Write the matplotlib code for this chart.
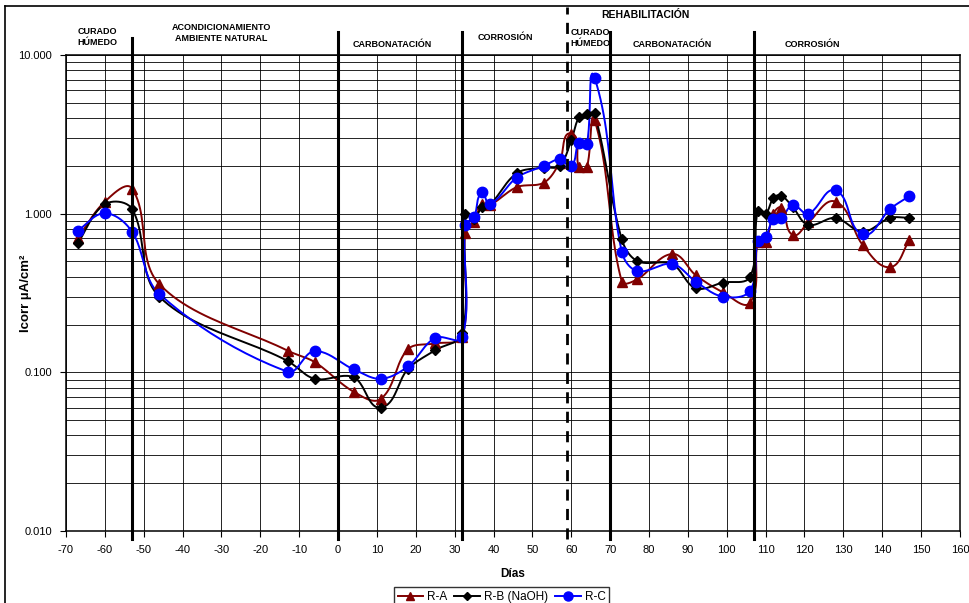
import numpy as np
import matplotlib.pyplot as plt
from matplotlib.lines import Line2D
from matplotlib.ticker import FixedLocator, LogLocator, NullFormatter

plt.rcParams['font.family'] = ['Liberation Sans', 'DejaVu Sans']
plt.rcParams['axes.unicode_minus'] = False

# días de medida (común a las tres series)
dias = [-67, -60, -53, -46, -13, -6, 4, 11, 18, 25, 32, 32.7, 35, 37, 39, 46, 53, 57,
        60, 62, 64, 66, 73, 77, 86, 92, 99, 106, 108, 110, 112, 114, 117, 121, 128,
        135, 142, 147]

icorr_ra = [0.70, 1.19, 1.44, 0.36, 0.137, 0.116, 0.0755, 0.068, 0.14, 0.152, 0.168,
            0.75, 0.88, 1.15, 1.13, 1.47, 1.57, 2.1, 3.2, 1.96, 1.96, 3.9, 0.373, 0.386,
            0.557, 0.41, 0.32, 0.275, 0.66, 0.666, 1.0, 1.09, 0.734, 0.88, 1.19, 0.635,
            0.46, 0.68]
icorr_rb = [0.65, 1.146, 1.07, 0.30, 0.118, 0.091, 0.093, 0.060, 0.105, 0.138, 0.176,
            1.0, 0.93, 1.1, 1.13, 1.80, 1.95, 2.0, 2.9, 4.05, 4.23, 4.29, 0.69, 0.503,
            0.48, 0.339, 0.368, 0.40, 1.04, 1.0, 1.26, 1.3, 1.1, 0.85, 0.94, 0.77, 0.94,
            0.94]
icorr_rc = [0.78, 1.006, 0.77, 0.312, 0.101, 0.136, 0.1045, 0.091, 0.109, 0.165, 0.166,
            0.85, 0.95, 1.36, 1.15, 1.69, 2.0, 2.2, 2.0, 2.8, 2.75, 7.2, 0.576, 0.435,
            0.482, 0.373, 0.30, 0.327, 0.67, 0.716, 0.926, 0.935, 1.13, 1.0, 1.40, 0.74,
            1.07, 1.29]

# cambios de fase
limites = [-53, 0, 32, 70, 107]
rehab = 59

fases = [(-62, 1.038, 'CURADO\nHÚMEDO'),
         (-30, 1.046, 'ACONDICIONAMIENTO\nAMBIENTE NATURAL'),
         (14, 1.021, 'CARBONATACIÓN'),
         (43, 1.036, 'CORROSIÓN'),
         (65, 1.036, 'CURADO\nHÚMEDO'),
         (86, 1.021, 'CARBONATACIÓN'),
         (122, 1.021, 'CORROSIÓN')]

XMIN, XMAX = -70, 160


def suavizar(x, y, n=24, s=0.33):
    # curva suavizada tipo Excel: Bezier con tangente en la dirección de los vecinos
    # y longitud proporcional al tramo (evita rebotes en tramos muy cortos)
    x = np.asarray(x, float)
    ly = np.log10(np.asarray(y, float))
    p = np.column_stack([(x - XMIN) / (XMAX - XMIN) * 897, ly * 158.7])
    p = np.vstack([p[0], p, p[-1]])
    t = np.linspace(0, 1, n)[:, None]

    def unit(v):
        nv = np.hypot(*v)
        return v / nv if nv > 0 else v

    segs = []
    for i in range(1, len(p) - 2):
        p0, p1, p2, p3 = p[i - 1], p[i], p[i + 1], p[i + 2]
        L = np.hypot(*(p2 - p1))
        c1 = p1 + unit(p2 - p0) * L * s
        c2 = p2 - unit(p3 - p1) * L * s
        segs.append((1 - t) ** 3 * p1 + 3 * (1 - t) ** 2 * t * c1
                    + 3 * (1 - t) * t ** 2 * c2 + t ** 3 * p2)
    c = np.vstack(segs)
    return c[:, 0] / 897 * (XMAX - XMIN) + XMIN, 10 ** (c[:, 1] / 158.7)


fig = plt.figure(figsize=(9.7, 6.03), dpi=100)
ax = fig.add_axes([0.068, 0.1194, 0.9216, 0.7894])

series = [(icorr_ra, '#800000', '^', 7, 'R-A'),
          (icorr_rb, 'black', 'D', 5, 'R-B (NaOH)'),
          (icorr_rc, '#0000ff', 'o', 7.5, 'R-C')]
handles = []
for vals, col, mk, ms, lab in series:
    sx, sy = suavizar(dias, vals)
    ax.plot(sx, sy, color=col, lw=1.4, zorder=4)
    ax.plot(dias, vals, ls='none', marker=mk, ms=ms, color=col, zorder=5)
    handles.append(Line2D([], [], color=col, lw=1.4, marker=mk, ms=ms - 1, label=lab))

ax.set_yscale('log')
ax.set_ylim(0.01, 10)
ax.set_xlim(XMIN, XMAX)
ax.xaxis.set_major_locator(FixedLocator(np.arange(-70, 161, 10)))
ax.yaxis.set_major_locator(FixedLocator([0.01, 0.1, 1, 10]))
ax.yaxis.set_minor_locator(LogLocator(base=10, subs=np.arange(2, 10)))
ax.yaxis.set_minor_formatter(NullFormatter())
ax.set_yticklabels(['0.010', '0.100', '1.000', '10.000'])
ax.tick_params(axis='both', which='major', labelsize=8, direction='out', length=4,
               width=0.8, pad=6)
ax.tick_params(axis='y', which='minor', length=0)
ax.grid(True, which='major', axis='x', color='black', lw=0.6)
ax.grid(True, which='both', axis='y', color='black', lw=0.6)
for sp in ax.spines.values():
    sp.set_linewidth(1.1)

# líneas de fase, prolongadas por encima del área de trazado
trans = ax.get_xaxis_transform()
for xv in limites:
    top = 1.036 if xv == -53 else 1.048
    ax.plot([xv, xv], [-0.016, top], transform=trans, color='black', lw=2.2,
            clip_on=False, zorder=6)
ax.plot([rehab, rehab], [-0.016, 1.1], transform=trans, color='black', lw=2.0,
        ls=(0, (4, 3)), clip_on=False, zorder=6)

for xv, yv, txt in fases:
    ax.text(xv, yv, txt, transform=trans, ha='center', va='center', fontsize=6.5,
            fontweight='bold', linespacing=1.3)
ax.text(79, 1.084, 'REHABILITACIÓN', transform=trans, ha='center', va='center',
        fontsize=7.5, fontweight='bold')

ax.set_xlabel('Días', fontsize=8.5, fontweight='bold')
ax.xaxis.set_label_coords(0.5, -0.078)
ax.set_ylabel('Icorr µA/cm²', fontsize=9.5, fontweight='bold')
ax.yaxis.set_label_coords(-0.038, 0.5)

fig.legend(handles=handles, loc='upper center', bbox_to_anchor=(0.517, 0.036), ncol=3,
           fontsize=8.5, frameon=True, fancybox=False, edgecolor='black',
           handlelength=2.2, handletextpad=0.3, columnspacing=0.6, borderpad=0.3)

# marco del gráfico
fig.add_artist(Line2D([5 / 970, 5 / 970], [0, 1 - 6 / 603], transform=fig.transFigure,
                      color='black', lw=1.2))
fig.add_artist(Line2D([5 / 970, 1], [1 - 6 / 603, 1 - 6 / 603], transform=fig.transFigure,
                      color='black', lw=1.2))

fig.savefig('out.png', dpi=100)
